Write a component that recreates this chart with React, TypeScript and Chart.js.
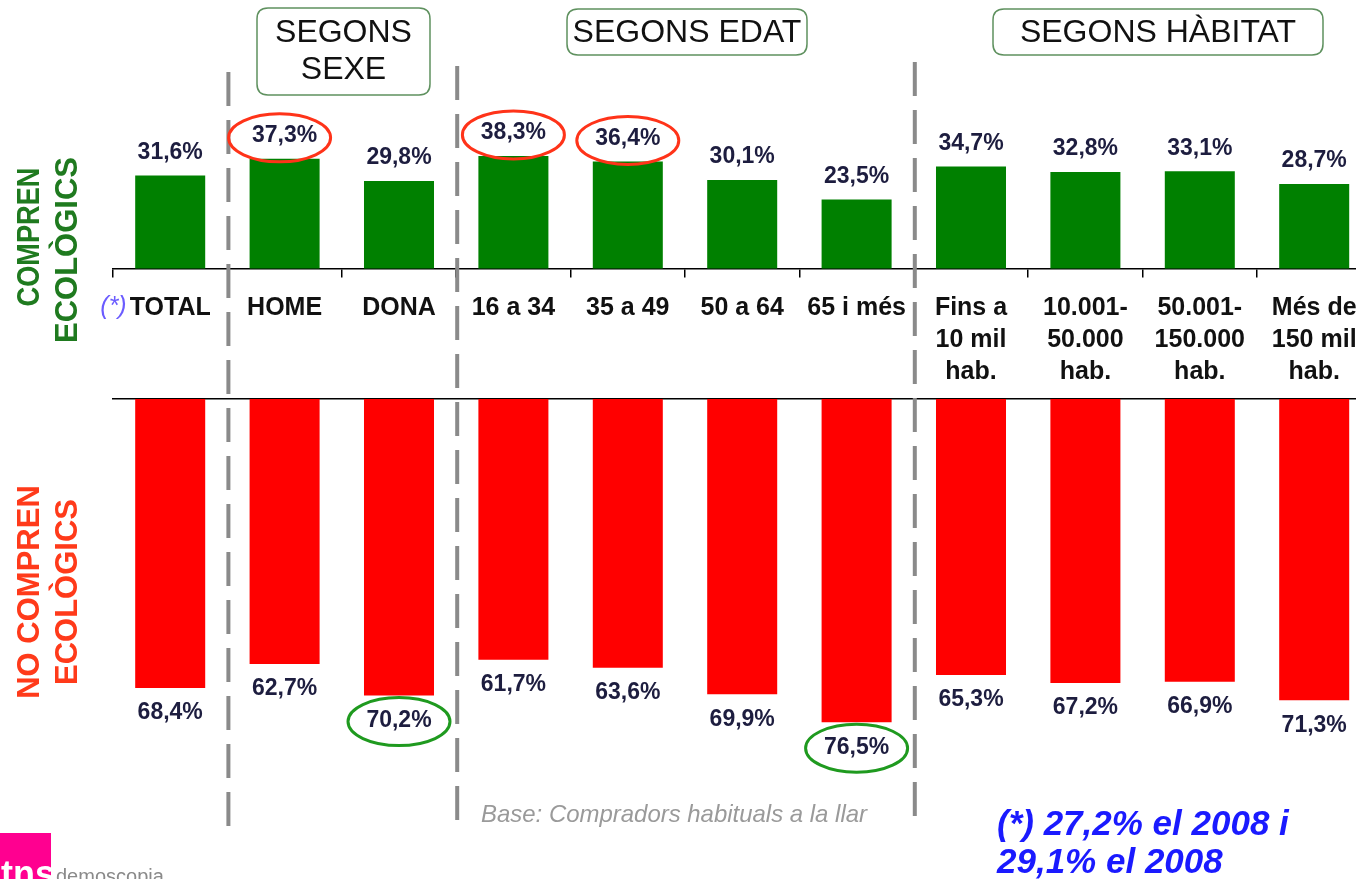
import React, { useEffect, useRef } from "react";
import { Chart, registerables } from "chart.js";

Chart.register(...registerables);

const categories: string[][] = [
  ["TOTAL"],
  ["HOME"],
  ["DONA"],
  ["16 a 34"],
  ["35 a 49"],
  ["50 a 64"],
  ["65 i més"],
  ["Fins a", "10 mil", "hab."],
  ["10.001-", "50.000", "hab."],
  ["50.001-", "150.000", "hab."],
  ["Més de", "150 mil", "hab."],
];
const compren = [31.6, 37.3, 29.8, 38.3, 36.4, 30.1, 23.5, 34.7, 32.8, 33.1, 28.7];
const noCompren = [68.4, 62.7, 70.2, 61.7, 63.6, 69.9, 76.5, 65.3, 67.2, 66.9, 71.3];
const highlightTop = [1, 3, 4];
const highlightBottom = [2, 6];
const separatorsBefore = [1, 3, 7];
const groupTitles: string[][] = [["SEGONS", "SEXE"], ["SEGONS EDAT"], ["SEGONS HÀBITAT"]];
const topTitle = ["COMPREN", "ECOLÒGICS"];
const bottomTitle = ["NO COMPREN", "ECOLÒGICS"];
const footnote = ["(*) 27,2% el 2008 i", "29,1% el 2008"];
const baseNote = "Base: Compradors habituals a la llar";

const FONT = "'Liberation Sans', Arial, Helvetica, sans-serif";
const W = 1380;
const H = 879;
const TOP_ZERO = 268.5;
const TOP_PX = 2.94;
const BOT_ZERO = 399;
const BOT_PX = 4.225;

const fmt = (v: number) => v.toFixed(1).replace(".", ",") + "%";

function roundRect(ctx: CanvasRenderingContext2D, x: number, y: number, w: number, h: number, r: number) {
  ctx.beginPath();
  ctx.moveTo(x + r, y);
  ctx.lineTo(x + w - r, y);
  ctx.quadraticCurveTo(x + w, y, x + w, y + r);
  ctx.lineTo(x + w, y + h - r);
  ctx.quadraticCurveTo(x + w, y + h, x + w - r, y + h);
  ctx.lineTo(x + r, y + h);
  ctx.quadraticCurveTo(x, y + h, x, y + h - r);
  ctx.lineTo(x, y + r);
  ctx.quadraticCurveTo(x, y, x + r, y);
  ctx.closePath();
}

const decorPlugin = {
  id: "decor",
  afterDraw(chart: any) {
    const ctx: CanvasRenderingContext2D = chart.ctx;
    const xs = chart.scales.x;
    const topMeta = chart.getDatasetMeta(0);
    const botMeta = chart.getDatasetMeta(1);

    ctx.save();
    // dashed separators
    const sepRanges = [
      [72, 838],
      [66, 828],
      [62, 828],
    ];
    ctx.strokeStyle = "#8a8a8a";
    ctx.lineWidth = 4;
    ctx.setLineDash([34, 14]);
    separatorsBefore.forEach((idx, k) => {
      const x = (xs.getPixelForValue(idx - 1) + xs.getPixelForValue(idx)) / 2 + 1;
      ctx.beginPath();
      ctx.moveTo(x, sepRanges[k][0]);
      ctx.lineTo(x, sepRanges[k][1]);
      ctx.stroke();
    });
    ctx.setLineDash([]);

    // value labels
    ctx.fillStyle = "#1d1d3f";
    ctx.font = `bold 23px ${FONT}`;
    ctx.textAlign = "center";
    ctx.textBaseline = "middle";
    topMeta.data.forEach((bar: any, i: number) => {
      ctx.fillText(fmt(compren[i]), bar.x, bar.y - 23);
    });
    botMeta.data.forEach((bar: any, i: number) => {
      ctx.fillText(fmt(noCompren[i]), bar.x, bar.y + 25);
    });

    // ellipses
    ctx.lineWidth = 3;
    ctx.strokeStyle = "#ff3319";
    highlightTop.forEach((i) => {
      const bar = topMeta.data[i];
      ctx.beginPath();
      ctx.ellipse(bar.x - (i === 1 ? 5 : 0), bar.y - 21, 51, 24, 0, 0, Math.PI * 2);
      ctx.stroke();
    });
    ctx.strokeStyle = "#1f9a1f";
    highlightBottom.forEach((i) => {
      const bar = botMeta.data[i];
      ctx.beginPath();
      ctx.ellipse(bar.x, bar.y + 26, 51, 24, 0, 0, Math.PI * 2);
      ctx.stroke();
    });

    // (*) before TOTAL
    ctx.font = `bold 25px ${FONT}`;
    const totalW = ctx.measureText(categories[0][0]).width;
    ctx.font = `italic 25px ${FONT}`;
    ctx.fillStyle = "#6b5cff";
    ctx.textAlign = "right";
    ctx.fillText("(*)", xs.getPixelForValue(0) - totalW / 2 - 3, 307);

    // group title boxes
    const boxes = [
      { x: 257, y: 8, w: 173, h: 87 },
      { x: 567, y: 9, w: 240, h: 46 },
      { x: 993, y: 9, w: 330, h: 46 },
    ];
    ctx.strokeStyle = "#5f915f";
    ctx.lineWidth = 1.5;
    ctx.fillStyle = "#111";
    ctx.font = `32px ${FONT}`;
    ctx.textAlign = "center";
    boxes.forEach((b, k) => {
      roundRect(ctx, b.x, b.y, b.w, b.h, 11);
      ctx.stroke();
      const lines = groupTitles[k];
      lines.forEach((t, j) => {
        const cy = lines.length === 1 ? b.y + 24 : b.y + 25 + j * 37;
        ctx.fillText(t, b.x + b.w / 2, cy);
      });
    });

    // side titles
    const drawRot = (t: string, x: number, y: number, mw: number, color: string) => {
      ctx.save();
      ctx.translate(x, y);
      ctx.rotate(-Math.PI / 2);
      ctx.fillStyle = color;
      ctx.font = `bold 31px ${FONT}`;
      ctx.textAlign = "center";
      ctx.textBaseline = "middle";
      ctx.fillText(t, 0, 0, mw);
      ctx.restore();
    };
    drawRot(topTitle[0], 30, 237, 139, "#1f7a1f");
    drawRot(topTitle[1], 68, 250, 186, "#1f7a1f");
    drawRot(bottomTitle[0], 30, 592, 215, "#ff3a1a");
    drawRot(bottomTitle[1], 68, 592, 186, "#ff3a1a");

    // base note
    ctx.textAlign = "left";
    ctx.textBaseline = "middle";
    ctx.fillStyle = "#9a9a9a";
    ctx.font = `italic 24px ${FONT}`;
    ctx.fillText(baseNote, 481, 815, 386);

    // footnote
    ctx.fillStyle = "#1a1aff";
    ctx.font = `italic bold 35px ${FONT}`;
    ctx.fillText(footnote[0], 997, 825);
    ctx.fillText(footnote[1], 997, 863);

    // logo
    ctx.fillStyle = "#ff0090";
    ctx.fillRect(0, 833, 51, 46);
    ctx.fillStyle = "#fff";
    ctx.font = `bold 36px ${FONT}`;
    ctx.textBaseline = "alphabetic";
    ctx.fillText("tns", 1, 886);
    ctx.fillStyle = "#8a8a8a";
    ctx.font = `20px ${FONT}`;
    ctx.fillText("demoscopia", 56, 883);

    ctx.restore();
  },
};

export default function App() {
  const ref = useRef<HTMLCanvasElement | null>(null);
  useEffect(() => {
    if (!ref.current) return;
    Chart.defaults.font.family = FONT;
    const chart = new Chart(ref.current, {
      type: "bar",
      data: {
        labels: categories,
        datasets: [
          {
            label: "Compren ecològics",
            data: compren,
            backgroundColor: "#008000",
            xAxisID: "x",
            yAxisID: "y",
            grouped: false,
            barPercentage: 0.612,
            categoryPercentage: 1,
          },
          {
            label: "No compren ecològics",
            data: noCompren,
            backgroundColor: "#ff0000",
            xAxisID: "x",
            yAxisID: "y2",
            grouped: false,
            barPercentage: 0.612,
            categoryPercentage: 1,
          },
        ],
      },
      options: {
        animation: false,
        responsive: false,
        devicePixelRatio: 1,
        events: [],
        layout: { padding: { left: 113, right: W - 113 - 114.4 * 11, top: 0, bottom: 0 } },
        plugins: { legend: { display: false }, tooltip: { enabled: false } },
        scales: {
          x: {
            type: "category",
            axis: "x",
            position: { y: 0 },
            offset: true,
            grid: { offset: true, drawOnChartArea: false, drawTicks: true, tickLength: 8, color: "#000", lineWidth: 1.5 },
            border: { display: true, color: "#000", width: 1.5 },
            ticks: {
              autoSkip: false,
              maxRotation: 0,
              minRotation: 0,
              padding: 16,
              color: "#111",
              font: { size: 25, weight: "bold", lineHeight: 1.28 },
            },
          },
          x2: {
            type: "category",
            axis: "x",
            position: { y2: 0 },
            offset: true,
            grid: { display: true, drawOnChartArea: false, drawTicks: false },
            border: { display: true, color: "#000", width: 1.5 },
            ticks: { display: false },
          },
          y: {
            type: "linear",
            display: false,
            min: -(H - TOP_ZERO) / TOP_PX,
            max: TOP_ZERO / TOP_PX,
          },
          y2: {
            type: "linear",
            display: false,
            reverse: true,
            min: -BOT_ZERO / BOT_PX,
            max: (H - BOT_ZERO) / BOT_PX,
          },
        },
      } as any,
      plugins: [decorPlugin],
    });
    return () => chart.destroy();
  }, []);
  return (
    <div style={{ position: "fixed", left: 0, top: 0, width: 1356, height: 879, overflow: "hidden", background: "#fff" }}>
      <canvas ref={ref} width={W} height={H} style={{ display: "block", width: W, height: H }} />
    </div>
  );
}
